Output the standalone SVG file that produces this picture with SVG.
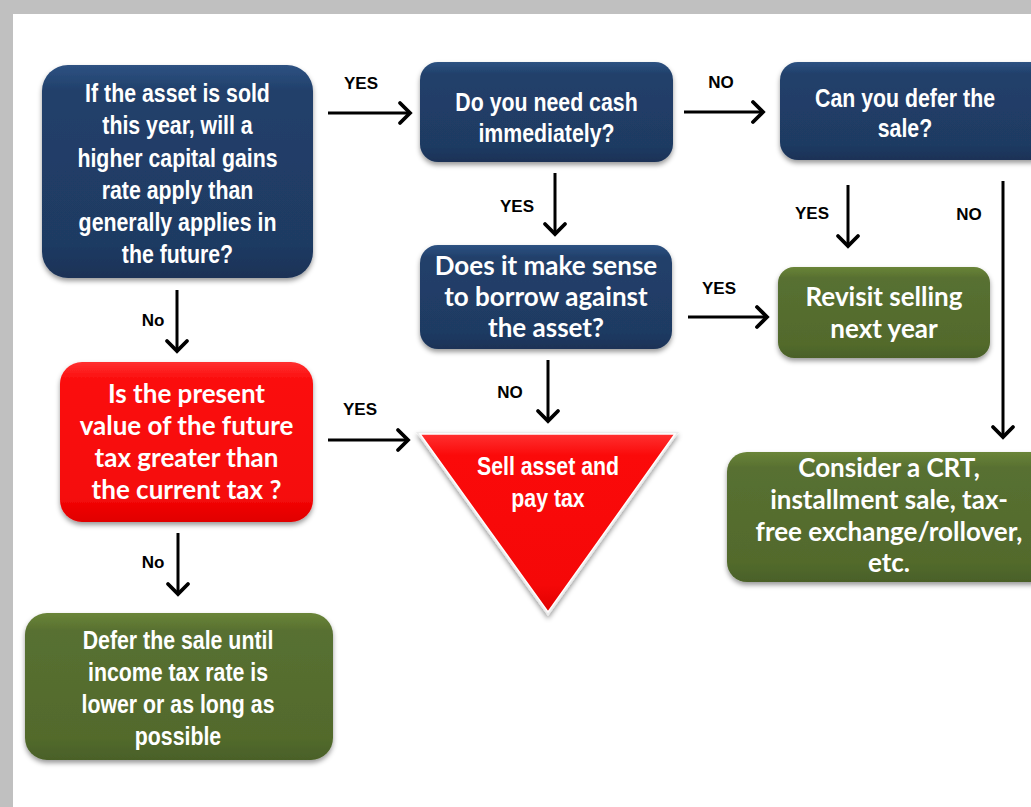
<svg xmlns="http://www.w3.org/2000/svg" width="1031" height="807" viewBox="0 0 1031 807">
<defs>
<style>
.n{font-family:"Liberation Sans",Arial,sans-serif;font-weight:bold;font-size:26px;fill:#fff;text-anchor:middle}
.c{font-family:Lato,"Open Sans",sans-serif;font-weight:bold;font-size:26px;fill:#fff;text-anchor:middle}
.lbl{font-family:"Liberation Sans",Arial,sans-serif;font-weight:bold;font-size:17px;fill:#000;text-anchor:middle}
.ln{stroke:#000;stroke-width:3;fill:none;marker-end:url(#ah)}
.navy{fill:url(#gNavy);filter:url(#sh)}
.green{fill:url(#gGreen);filter:url(#sh)}
.red{fill:url(#gRed);filter:url(#sh)}
</style>
<linearGradient id="gNavy" x1="0" y1="0" x2="0" y2="1">
<stop offset="0" stop-color="#2e5282"/><stop offset="0.12" stop-color="#21406b"/><stop offset="0.85" stop-color="#1f3a62"/><stop offset="1" stop-color="#1a3256"/>
</linearGradient>
<linearGradient id="gGreen" x1="0" y1="0" x2="0" y2="1">
<stop offset="0" stop-color="#6a8538"/><stop offset="0.12" stop-color="#587031"/><stop offset="0.85" stop-color="#526a2c"/><stop offset="1" stop-color="#4a6028"/>
</linearGradient>
<linearGradient id="gRed" x1="0" y1="0" x2="0" y2="1">
<stop offset="0" stop-color="#ff3030"/><stop offset="0.12" stop-color="#fb0a0a"/><stop offset="0.85" stop-color="#f50808"/><stop offset="1" stop-color="#e00000"/>
</linearGradient>
<filter id="sh" x="-10%" y="-10%" width="120%" height="130%">
<feDropShadow dx="0" dy="3" stdDeviation="2.5" flood-color="#000" flood-opacity="0.4"/>
</filter>
<marker id="ah" markerUnits="userSpaceOnUse" markerWidth="24" markerHeight="24" refX="12" refY="11" orient="auto" overflow="visible">
<path d="M2,1 L12,11 L2,21" stroke="#000" stroke-width="3.8" fill="none" stroke-linecap="round" stroke-linejoin="miter"/>
</marker>
</defs>
<rect x="0" y="0" width="1031" height="807" fill="#fff"/>
<rect x="0" y="0" width="1031" height="14" fill="#c0c0c0"/>
<rect x="0" y="0" width="13" height="807" fill="#c0c0c0"/>

<g id="connectors">
<line class="ln" x1="328" y1="113" x2="410" y2="113"/>
<line class="ln" x1="684" y1="112" x2="763" y2="112"/>
<line class="ln" x1="555" y1="173" x2="555" y2="234"/>
<line class="ln" x1="848" y1="185" x2="848" y2="246"/>
<line class="ln" x1="1003" y1="181" x2="1003" y2="437"/>
<line class="ln" x1="688" y1="317" x2="767" y2="317"/>
<line class="ln" x1="177" y1="290" x2="177" y2="351"/>
<line class="ln" x1="328" y1="440" x2="408" y2="440"/>
<line class="ln" x1="548" y1="360" x2="548" y2="421"/>
<line class="ln" x1="178" y1="533" x2="178" y2="594"/>
<text class="lbl" x="361" y="89">YES</text>
<text class="lbl" x="721" y="88">NO</text>
<text class="lbl" x="517" y="212">YES</text>
<text class="lbl" x="812" y="219">YES</text>
<text class="lbl" x="969" y="220">NO</text>
<text class="lbl" x="719" y="294">YES</text>
<text class="lbl" x="153" y="326">No</text>
<text class="lbl" x="360" y="415">YES</text>
<text class="lbl" x="510" y="398">NO</text>
<text class="lbl" x="153" y="568">No</text>
</g>

<g id="q-higher-rate">
<rect class="navy" x="42" y="65" width="271" height="213" rx="26"/>
<text class="n" transform="translate(177.5,102) scale(0.82,1)">If the asset is sold</text>
<text class="n" transform="translate(177.5,134) scale(0.82,1)">this year, will a</text>
<text class="n" transform="translate(177.5,166.5) scale(0.82,1)">higher capital gains</text>
<text class="n" transform="translate(177.5,198.5) scale(0.82,1)">rate apply than</text>
<text class="n" transform="translate(177.5,230.5) scale(0.82,1)">generally applies in</text>
<text class="n" transform="translate(177.5,263) scale(0.82,1)">the future?</text>
</g>

<g id="q-need-cash">
<rect class="navy" x="420" y="62" width="253" height="100" rx="18"/>
<text class="n" transform="translate(546.5,111) scale(0.82,1)">Do you need cash</text>
<text class="n" transform="translate(546.5,142) scale(0.82,1)">immediately?</text>
</g>

<g id="q-defer">
<rect class="navy" x="780" y="62" width="270" height="98" rx="18"/>
<text class="n" transform="translate(905,107) scale(0.82,1)">Can you defer the</text>
<text class="n" transform="translate(905,137) scale(0.82,1)">sale?</text>
</g>

<g id="q-borrow">
<rect class="navy" x="420" y="245" width="252" height="104" rx="18"/>
<text class="c" x="546" y="275">Does it make sense</text>
<text class="c" x="546" y="306">to borrow against</text>
<text class="c" x="546" y="337">the asset?</text>
</g>

<g id="revisit">
<rect class="green" x="778" y="267" width="212" height="91" rx="16"/>
<text class="c" x="884" y="306">Revisit selling</text>
<text class="c" x="884" y="338">next year</text>
</g>

<g id="consider-crt">
<rect class="green" x="727" y="452" width="330" height="130" rx="20"/>
<text class="c" x="889" y="477">Consider a CRT,</text>
<text class="c" x="889" y="509">installment sale, tax-</text>
<text class="c" x="889" y="541">free exchange/rollover,</text>
<text class="c" x="889" y="572">etc.</text>
</g>

<g id="q-present-value">
<rect class="red" x="60" y="362" width="253" height="160" rx="22"/>
<text class="c" x="186.5" y="403">Is the present</text>
<text class="c" x="186.5" y="435">value of the future</text>
<text class="c" x="186.5" y="467">tax greater than</text>
<text class="c" x="186.5" y="499">the current tax ?</text>
</g>

<g id="sell-asset">
<polygon points="416,432 679,432 548,616" fill="#ececec" filter="url(#sh)"/>
<polygon points="420,434 675,434 548,612" fill="url(#gRed)" stroke="#fff" stroke-width="1.5"/>
<text class="n" transform="translate(548,475) scale(0.82,1)">Sell asset and</text>
<text class="n" transform="translate(548,507) scale(0.82,1)">pay tax</text>
</g>

<g id="defer-sale">
<rect class="green" x="25" y="613" width="308" height="147" rx="22"/>
<text class="n" transform="translate(178,649) scale(0.82,1)">Defer the sale until</text>
<text class="n" transform="translate(178,681) scale(0.82,1)">income tax rate is</text>
<text class="n" transform="translate(178,713) scale(0.82,1)">lower or as long as</text>
<text class="n" transform="translate(178,745) scale(0.82,1)">possible</text>
</g>
</svg>
